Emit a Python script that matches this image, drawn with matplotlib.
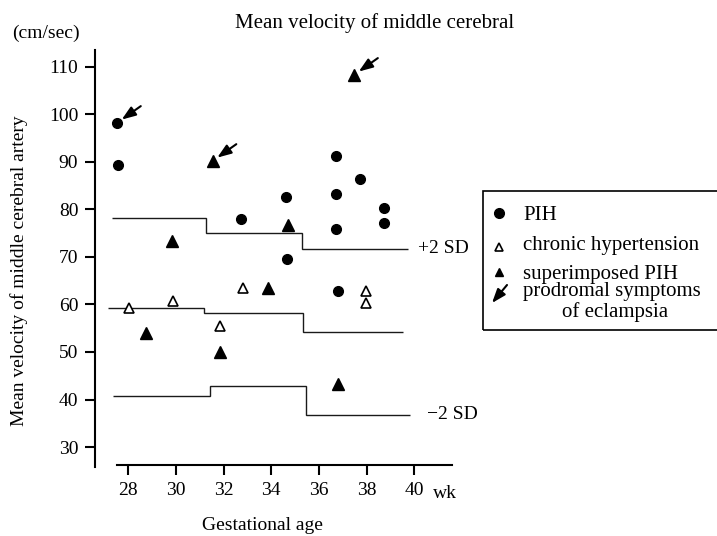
import matplotlib.pyplot as plt
from matplotlib.patches import Rectangle
from matplotlib.lines import Line2D

plt.rcParams.update({'font.family': ['Liberation Serif', 'DejaVu Serif']})
plt.rcParams.update({'font.size': 14})

# PIH (filled circles)
pih_wk = [27.53, 27.58, 32.72, 34.62, 34.65, 36.72, 36.72, 36.72, 37.72, 38.74, 38.74, 36.79]
pih_v = [98.2, 89.3, 78.0, 82.6, 69.5, 91.2, 83.2, 75.9, 86.4, 80.2, 77.1, 62.8]

# chronic hypertension (open triangles)
chr_wk = [28.03, 29.89, 31.85, 32.83, 37.96, 37.96]
chr_v = [59.3, 60.8, 55.5, 63.4, 62.9, 60.2]

# superimposed PIH (filled triangles)
sup_wk = [37.48, 31.54, 29.85, 34.71, 33.85, 28.73, 31.85, 36.79]
sup_v = [108.3, 90.2, 73.4, 76.6, 63.4, 53.9, 49.9, 43.3]

# points with prodromal symptoms of eclampsia
arrow_wk = [27.53, 31.54, 37.48]
arrow_v = [98.2, 90.2, 108.3]

# reference bands (step lines)
plus2_edges = [27.3, 31.26, 35.28, 39.75]
plus2_vals = [78.1, 75.0, 71.7]
mean_edges = [27.13, 31.19, 35.34, 39.51]
mean_vals = [59.2, 58.3, 54.3]
minus2_edges = [27.37, 31.43, 35.46, 39.82]
minus2_vals = [40.75, 42.85, 36.75]

x_ticks = [28, 30, 32, 34, 36, 38, 40]
y_ticks = [30, 40, 50, 60, 70, 80, 90, 100, 110]

W, H = 717, 536
fig = plt.figure(figsize=(W / 100, H / 100), dpi=100)


def fx(px):
    return px / W


def fy(py):
    return 1 - py / H


ax = fig.add_axes([fx(95), fy(470), fx(460) - fx(95), fy(45) - fy(470)])
ax.set_xlim(26.60, 41.92)
ax.set_ylim(25.18, 114.56)
ax.patch.set_alpha(0)

lc = '#1a1a1a'
ax.stairs(plus2_vals, plus2_edges, baseline=None, color=lc, lw=1.0)
ax.stairs(mean_vals, mean_edges, baseline=None, color=lc, lw=1.0)
ax.stairs(minus2_vals, minus2_edges, baseline=None, color=lc, lw=1.0)

ax.plot(pih_wk, pih_v, 'o', color='black', ms=7, ls='none', zorder=3)
ax.plot(chr_wk, chr_v, '^', mfc='white', mec='black', mew=1.2, ms=7, ls='none', zorder=3)
ax.plot(sup_wk, sup_v, '^', color='black', ms=8, ls='none', zorder=3)

for x, y in zip(arrow_wk, arrow_v):
    ax.annotate('', xy=(x, y), xytext=(17, 12), textcoords='offset points',
                arrowprops=dict(arrowstyle='-|>,head_length=0.6,head_width=0.22',
                                color='black', lw=1.5, shrinkA=0, shrinkB=4))

ax.text(40.16, 71.8, '+2 SD', va='center', ha='left', fontsize=14)
ax.text(40.53, 36.75, '\u22122 SD', va='center', ha='left', fontsize=14)

for s in ['top', 'right']:
    ax.spines[s].set_visible(False)
ax.spines['left'].set_bounds(25.8, 113.5)
ax.spines['bottom'].set_position(('data', 26.24))
ax.spines['bottom'].set_bounds(27.53, 41.58)
ax.spines['left'].set_linewidth(1.5)
ax.spines['bottom'].set_linewidth(1.5)

ax.set_xticks(x_ticks)
ax.set_yticks(y_ticks)
ax.tick_params(axis='y', direction='out', length=7, width=1.5, pad=5, labelsize=14)
ax.tick_params(axis='x', direction='out', length=7, width=1.5, pad=5, labelsize=14)

fig.text(fx(433), fy(498), 'wk', ha='left', va='baseline', fontsize=14)
fig.text(fx(375), fy(28), 'Mean velocity of middle cerebral', ha='center', va='baseline', fontsize=15)
fig.text(fx(12), fy(38), '(cm/sec)', ha='left', va='baseline', fontsize=14)
fig.text(fx(262), fy(530), 'Gestational age', ha='center', va='baseline', fontsize=14)
fig.text(fx(19), fy(271), 'Mean velocity of middle cerebral artery', ha='center', va='center',
         rotation=90, fontsize=14)

# legend box, cut off at the right edge
fig.patches.append(Rectangle((fx(483), fy(330)), 0.5, fy(191) - fy(330),
                             transform=fig.transFigure, fill=False, ec='black', lw=1.2))
fig.lines.append(Line2D([fx(499)], [fy(213)], marker='o', color='black', ms=7,
                        transform=fig.transFigure))
fig.lines.append(Line2D([fx(499)], [fy(247)], marker='^', mfc='white', mec='black', mew=1.2, ms=6,
                        transform=fig.transFigure))
fig.lines.append(Line2D([fx(499)], [fy(272)], marker='^', color='black', ms=6,
                        transform=fig.transFigure))
fig.add_artist(plt.Annotation('', xy=(fx(492), fy(303)), xytext=(fx(507), fy(285)),
                              xycoords='figure fraction', textcoords='figure fraction',
                              arrowprops=dict(arrowstyle='-|>,head_length=0.6,head_width=0.22',
                                              color='black', lw=1.5, shrinkA=0, shrinkB=0)))
fig.text(fx(523), fy(220), 'PIH', ha='left', va='baseline', fontsize=15)
fig.text(fx(523), fy(250), 'chronic hypertension', ha='left', va='baseline', fontsize=15)
fig.text(fx(523), fy(265), 'superimposed PIH\nprodromal symptoms', ha='left', va='top',
         fontsize=15, linespacing=0.88)
fig.text(fx(615), fy(317), 'of eclampsia', ha='center', va='baseline', fontsize=15)

fig.savefig('out.png', dpi=100)
